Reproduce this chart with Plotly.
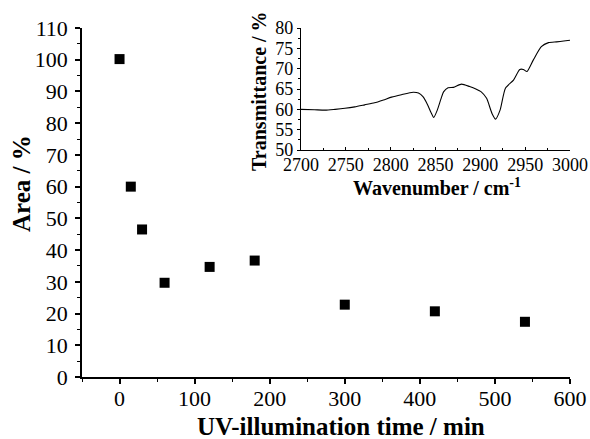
import plotly.graph_objects as go

# Main scatter data
time_min = [0, 15, 30, 60, 120, 180, 300, 420, 540]
area_pct = [100.2, 60.0, 46.5, 29.7, 34.7, 36.7, 22.8, 20.7, 17.4]

# Inset IR spectrum
wavenumber = [2700, 2715, 2727, 2738, 2749, 2760, 2771, 2782, 2792, 2801, 2812, 2825,
              2831, 2836, 2841, 2845, 2848, 2852, 2856, 2859, 2864, 2870, 2879, 2888,
              2895, 2901, 2907, 2913, 2917, 2922, 2928, 2937, 2944, 2948, 2952, 2959,
              2968, 2976, 2985, 2993, 3000]
transmittance = [60.0, 59.9, 59.8, 60.0, 60.25, 60.6, 61.1, 61.6, 62.3, 63.0, 63.6, 64.2,
                 64.0, 63.1, 61.2, 59.2, 58.0, 59.8, 62.5, 64.3, 65.3, 65.4, 66.2, 65.6,
                 65.0, 64.3, 62.7, 59.0, 57.6, 59.8, 65.2, 67.2, 69.8, 69.8, 69.3, 72.1,
                 75.4, 76.4, 76.6, 76.8, 77.0]

serif = "Liberation Serif, Times New Roman, serif"

W, H = 590, 439
# main plot area in window pixels: x 82..570, y 28..377
L, T = 82, 28
R = W - 570
B = H - 377
pw, ph = W - L - R, H - T - B


def px_x(x):
    return (x - L) / pw


def px_y(y):
    return (H - B - y) / ph


fig = go.Figure()
fig.add_trace(go.Scatter(
    x=time_min, y=area_pct, mode="markers",
    marker=dict(symbol="square", size=10, color="black"),
    xaxis="x", yaxis="y", showlegend=False))
fig.add_trace(go.Scatter(
    x=wavenumber, y=transmittance, mode="lines",
    line=dict(color="black", width=1.1, shape="spline", smoothing=0.6),
    xaxis="x2", yaxis="y2", showlegend=False))

axis_common = dict(showgrid=False, zeroline=False, showline=True, linecolor="black",
                   tickcolor="black", mirror=False, automargin=False)

fig.update_layout(
    width=W, height=H,
    paper_bgcolor="white", plot_bgcolor="white",
    margin=dict(l=L, r=R, t=T, b=B),
    font=dict(family=serif, color="black"),
    xaxis=dict(**axis_common, linewidth=1.5, domain=[0, 1], range=[-50, 600],
               tickvals=[0, 100, 200, 300, 400, 500, 600],
               ticks="outside", ticklen=5, tickwidth=1.5, ticklabelstandoff=-4,
               minor=dict(ticks="outside", ticklen=3, tickwidth=1.2, dtick=50, tick0=-50, tickcolor="black"),
               tickfont=dict(size=22, family=serif)),
    yaxis=dict(**axis_common, linewidth=1.5, domain=[0, 1], range=[0, 110],
               tickvals=list(range(0, 111, 10)),
               ticks="outside", ticklen=5, tickwidth=1.5, ticklabelstandoff=3,
               minor=dict(ticks="outside", ticklen=3, tickwidth=1.2, dtick=5, tick0=0, tickcolor="black"),
               tickfont=dict(size=22, family=serif)),
    xaxis2=dict(**axis_common, linewidth=1.2, domain=[px_x(301), 1.0], range=[2700, 3000], anchor="y2",
                tickvals=[2700, 2750, 2800, 2850, 2900, 2950, 3000],
                ticks="inside", ticklen=3, tickwidth=1, ticklabelstandoff=-2,
                minor=dict(ticks="inside", ticklen=2, tickwidth=1, dtick=25, tick0=2700, tickcolor="black"),
                tickfont=dict(size=18, family=serif)),
    yaxis2=dict(**axis_common, linewidth=1.2, domain=[px_y(150), 1.0], range=[50, 80], anchor="x2",
                tickvals=[50, 55, 60, 65, 70, 75, 80],
                ticks="outside", ticklen=3, tickwidth=1, ticklabelstandoff=0,
                minor=dict(ticks="outside", ticklen=2, tickwidth=1, dtick=2.5, tick0=50, tickcolor="black"),
                tickfont=dict(size=18, family=serif)),
    annotations=[
        dict(text="<b>UV-illumination time / min</b>", xref="paper", yref="paper",
             x=px_x(341), y=px_y(426), xanchor="center", yanchor="middle", showarrow=False,
             font=dict(size=25, family=serif)),
        dict(text="<b>Area / %</b>", xref="paper", yref="paper",
             x=px_x(21), y=px_y(184), xanchor="center", yanchor="middle", showarrow=False,
             textangle=-90, font=dict(size=25, family=serif)),
        dict(text="<b>Wavenumber / cm<sup>-1</sup></b>", xref="paper", yref="paper",
             x=px_x(437), y=px_y(187), xanchor="center", yanchor="middle", showarrow=False,
             font=dict(size=20, family=serif)),
        dict(text="<b>Transmittance / %</b>", xref="paper", yref="paper",
             x=px_x(259), y=px_y(91), xanchor="center", yanchor="middle", showarrow=False,
             textangle=-90, font=dict(size=20, family=serif)),
    ],
)

fig.write_html("out.html", config={"displayModeBar": False},
               post_script="document.body.style.margin='0';document.body.style.overflow='hidden';")
